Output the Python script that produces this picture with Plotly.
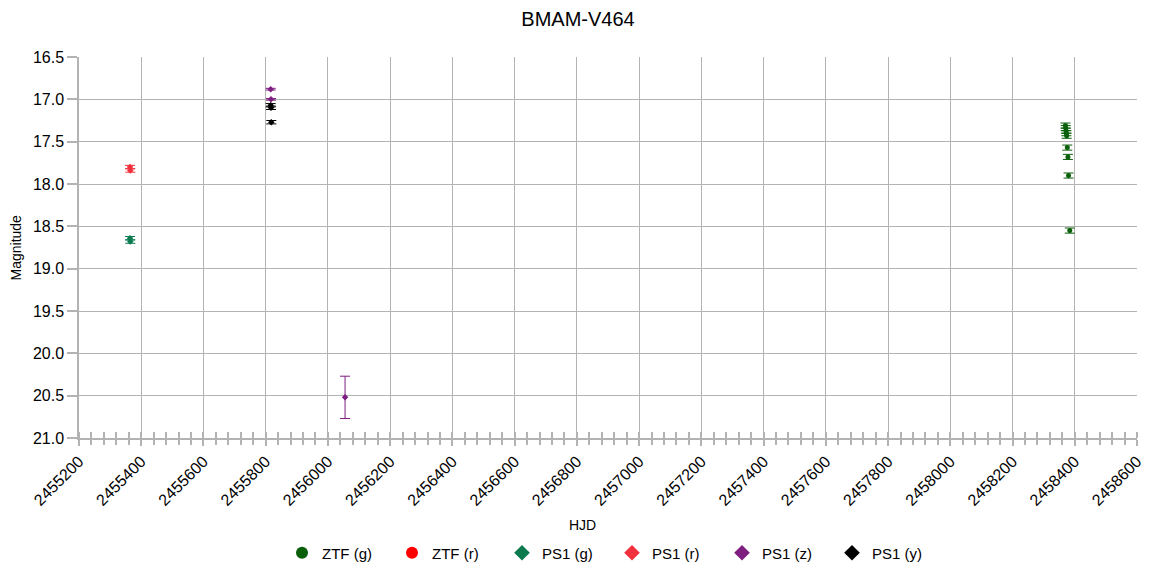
import plotly.graph_objects as go

# ---- data ----
ztf_g_hjd = [2458370, 2458371, 2458372, 2458373, 2458374, 2458376, 2458378, 2458380, 2458384]
ztf_g_mag = [17.31, 17.34, 17.37, 17.40, 17.43, 17.57, 17.68, 17.90, 18.55]
ztf_g_err = [0.03, 0.03, 0.03, 0.03, 0.03, 0.03, 0.03, 0.03, 0.03]

ztf_r_hjd = [None]
ztf_r_mag = [None]
ztf_r_err = [None]

ps1_g_hjd = [2455364, 2455365]
ps1_g_mag = [18.64, 18.68]
ps1_g_err = [0.02, 0.02]

ps1_r_hjd = [2455364, 2455365]
ps1_r_mag = [17.80, 17.84]
ps1_r_err = [0.02, 0.02]

ps1_z_hjd = [2455816, 2455817, 2456055]
ps1_z_mag = [16.88, 17.00, 20.52]
ps1_z_err = [0.01, 0.01, 0.25]

ps1_y_hjd = [2455816, 2455817, 2455818]
ps1_y_mag = [17.07, 17.10, 17.27]
ps1_y_err = [0.02, 0.02, 0.02]

x_range = [2455200, 2458600]
y_range = [21.0, 16.5]

series = [
    ("ZTF (g)", ztf_g_hjd, ztf_g_mag, ztf_g_err, "#0a5f0a", "circle"),
    ("ZTF (r)", ztf_r_hjd, ztf_r_mag, ztf_r_err, "#ff0000", "circle"),
    ("PS1 (g)", ps1_g_hjd, ps1_g_mag, ps1_g_err, "#0b7a4e", "diamond"),
    ("PS1 (r)", ps1_r_hjd, ps1_r_mag, ps1_r_err, "#f0303c", "diamond"),
    ("PS1 (z)", ps1_z_hjd, ps1_z_mag, ps1_z_err, "#7e1e80", "diamond"),
    ("PS1 (y)", ps1_y_hjd, ps1_y_mag, ps1_y_err, "#000000", "diamond"),
]

fig = go.Figure()
for name, xs, ys, es, col, sym in series:
    fig.add_trace(go.Scatter(
        x=xs, y=ys, name=name, mode="markers",
        marker=dict(color=col, symbol=sym, size=5, line=dict(width=0)),
        error_y=dict(type="data", array=es, visible=True, color=col,
                     thickness=1, width=5),
    ))

# invisible trace on overlay axis to carry inside minor ticks
fig.add_trace(go.Scatter(x=x_range, y=[None, None], xaxis="x2", showlegend=False,
                         hoverinfo="skip", mode="markers"))

# page body has an 8px offset; plot area target (screen): x 79..1137, y 57..438
off = 8
pl, pr, pt, pb = 79 - off, 1156 - (1137 - off), 57 - off, 578 - (438 - off)

grid = "#b3b3b3"
fig.update_layout(
    width=1156, height=578,
    paper_bgcolor="white", plot_bgcolor="white",
    font=dict(family="Liberation Sans, Arial, sans-serif", size=14, color="#000000"),
    margin=dict(l=pl, r=pr, t=pt, b=pb, autoexpand=False),
    title=dict(text="BMAM-V464", x=(578 - off) / 1156, xanchor="center",
               y=1 - (19 - off) / 578, yanchor="middle", font=dict(size=20)),
    xaxis=dict(range=x_range, dtick=200, tick0=2455200, tickangle=-45,
               automargin=False,
               showgrid=True, gridcolor=grid, gridwidth=1,
               showline=True, linecolor=grid, linewidth=1.5, mirror=False,
               ticks="outside", ticklen=6, tickcolor=grid, tickwidth=1.5,
               tickformat="d", zeroline=False,
               minor=dict(dtick=40, ticks="outside", ticklen=5, tickcolor=grid,
                          tickwidth=1.5, showgrid=False),
               tickfont=dict(size=16)),
    xaxis2=dict(range=x_range, overlaying="x", anchor="y", side="bottom",
                automargin=False,
                showgrid=False, showticklabels=False, zeroline=False, showline=False,
                tickvals=[], minor=dict(dtick=40, tick0=2455200, ticks="inside", ticklen=6,
                                        tickcolor=grid, tickwidth=1.5, showgrid=False)),
    yaxis=dict(range=y_range, dtick=0.5, tickformat=".1f", automargin=False,
               showgrid=True, gridcolor=grid, gridwidth=1,
               showline=True, linecolor=grid, linewidth=1.5,
               ticks="outside", ticklen=10, tickcolor=grid, tickwidth=1.5,
               zeroline=False, tickfont=dict(size=16)),
    legend=dict(orientation="h", x=(612 - 79) / 1058, xanchor="center",
                y=-(553 - 438) / 381, yanchor="middle", yref="paper",
                font=dict(size=15), itemsizing="constant", traceorder="normal",
                itemwidth=30, entrywidth=65, entrywidthmode="pixels"),
    annotations=[
        dict(text="HJD", xref="paper", yref="paper", x=(582 - 79) / 1058,
             y=-(525 - 438) / 381, xanchor="center", yanchor="middle",
             showarrow=False, font=dict(size=14)),
        dict(text="Magnitude", xref="paper", yref="paper", x=-(79 - 15) / 1058,
             y=0.5, xanchor="center", yanchor="middle", textangle=-90,
             showarrow=False, font=dict(size=14)),
    ],
)

fig.write_html("out.html")
